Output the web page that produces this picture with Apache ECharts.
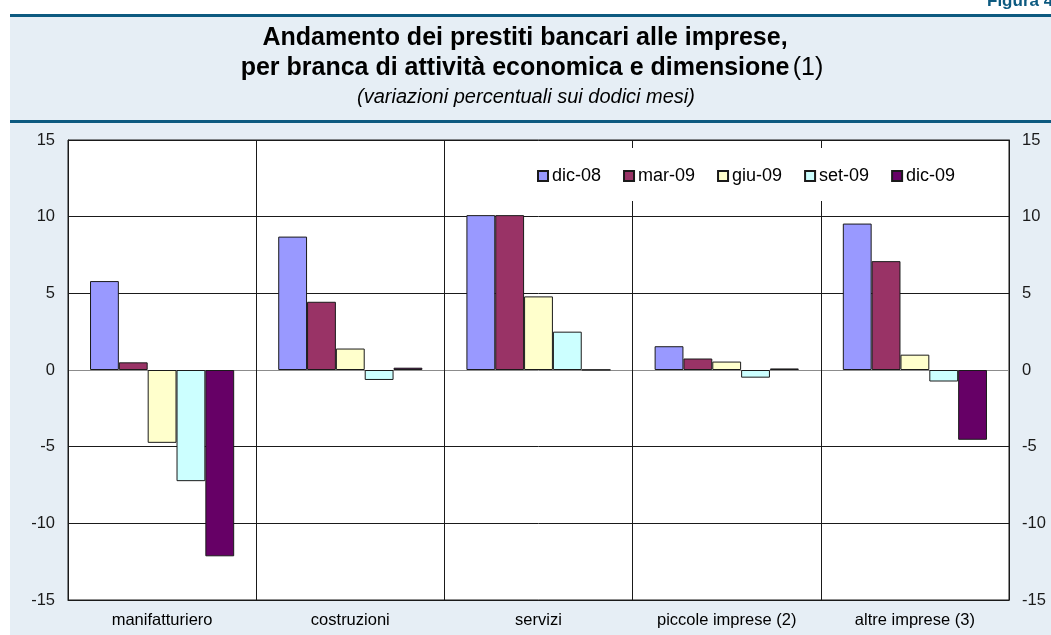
<!DOCTYPE html>
<html>
<head>
<meta charset="utf-8">
<script src="https://cdn.jsdelivr.net/npm/echarts@6/dist/echarts.min.js"></script>
<style>
  html, body { margin: 0; padding: 0; background: #ffffff; }
  #chart { width: 1051px; height: 635px; }
</style>
</head>
<body>
<div id="chart"></div>
<script>
// Loan growth by sector and firm size (12-month % change)
const categories = ['manifatturiero', 'costruzioni', 'servizi', 'piccole imprese (2)', 'altre imprese (3)'];
const seriesNames = ['dic-08', 'mar-09', 'giu-09', 'set-09', 'dic-09'];
const dic08 = [5.8, 8.7, 10.1, 1.55, 9.55];
const mar09 = [0.5, 4.45, 10.1, 0.75, 7.1];
const giu09 = [-4.75, 1.4, 4.8, 0.55, 1.0];
const set09 = [-7.25, -0.65, 2.5, -0.5, -0.75];
const dic09 = [-12.15, 0.15, 0.02, 0.1, -4.55];
const yTicks = [-15, -10, -5, 0, 5, 10, 15];

const colors = ['#9999ff', '#993366', '#ffffcc', '#ccffff', '#660066'];
const values = [dic08, mar09, giu09, set09, dic09];
const FONT = '"Liberation Sans", Arial, sans-serif';
const DARK_BLUE = '#0d5a80';

const chart = echarts.init(document.getElementById('chart'), null, { renderer: 'canvas' });

// zero line grey, other grid lines dark
const splitColors = yTicks.map(v => (v === 0 ? '#8c8c8c' : '#1a1a1a'));

const yAxisBase = {
  type: 'value',
  min: yTicks[0],
  max: yTicks[yTicks.length - 1],
  interval: 5,
  axisLine: { show: true, lineStyle: { color: '#1a1a1a', width: 1 } },
  axisTick: { show: false },
  axisLabel: { color: '#1a1a1a', fontSize: 16.5, fontFamily: FONT, margin: 13 },
};

chart.setOption({
  animation: false,
  backgroundColor: '#ffffff',
  graphic: [
    { type: 'rect', z: -10, shape: { x: 10, y: 15, width: 1041, height: 620 }, style: { fill: '#e6eef5' } },
    { type: 'rect', z: -9, shape: { x: 10, y: 14, width: 1041, height: 3 }, style: { fill: DARK_BLUE } },
    { type: 'rect', z: -9, shape: { x: 10, y: 120, width: 1041, height: 3 }, style: { fill: DARK_BLUE } },
    { type: 'text', x: 987, y: -7, style: { text: 'Figura 4.', fill: DARK_BLUE, font: 'bold 17px ' + FONT } },
    {
      type: 'text', x: 525, y: 38,
      style: {
        text: 'Andamento dei prestiti bancari alle imprese,',
        fill: '#000', font: 'bold 25px ' + FONT, align: 'center', verticalAlign: 'middle'
      }
    },
    {
      type: 'text', x: 532, y: 68,
      style: {
        text: '{b|per branca di attività economica e dimensione} {n|(1)}',
        align: 'center', verticalAlign: 'middle',
        rich: {
          b: { fill: '#000', font: 'bold 25px ' + FONT },
          n: { fill: '#000', font: '25px ' + FONT }
        }
      }
    },
    {
      type: 'text', x: 526, y: 97,
      style: {
        text: '(variazioni percentuali sui dodici mesi)',
        fill: '#000', font: 'italic 20px ' + FONT, align: 'center', verticalAlign: 'middle'
      }
    }
  ],
  legend: {
    data: seriesNames,
    left: 520,
    top: 148,
    backgroundColor: '#ffffff',
    padding: [19, 14, 16, 17],
    itemWidth: 10,
    itemHeight: 10,
    itemGap: 22,
    icon: 'rect',
    textStyle: { color: '#000', fontSize: 18, fontFamily: FONT, padding: [0, 0, 0, -1] },
    z: 5
  },
  grid: {
    left: 68, right: 42, top: 140, bottom: 35,
    show: true, backgroundColor: '#ffffff', borderColor: '#1a1a1a', borderWidth: 1
  },
  xAxis: {
    type: 'category',
    data: categories,
    boundaryGap: true,
    axisLine: { show: true, onZero: false, lineStyle: { color: '#1a1a1a' } },
    axisTick: { show: false },
    splitLine: { show: true, lineStyle: { color: '#1a1a1a', width: 1 } },
    axisLabel: { color: '#000', fontSize: 16.5, fontFamily: FONT, margin: 12, interval: 0 }
  },
  yAxis: [
    Object.assign({}, yAxisBase, {
      position: 'left',
      splitLine: { show: true, lineStyle: { color: splitColors, width: 1 } }
    }),
    Object.assign({}, yAxisBase, {
      position: 'right',
      splitLine: { show: false }
    })
  ],
  series: seriesNames.map((name, i) => ({
    name: name,
    type: 'bar',
    data: values[i],
    yAxisIndex: 0,
    barGap: '0%',
    barCategoryGap: '23.4%',
    itemStyle: { color: colors[i], borderColor: '#1a1a1a', borderWidth: 1 },
    emphasis: { disabled: true }
  }))
});
</script>
</body>
</html>
